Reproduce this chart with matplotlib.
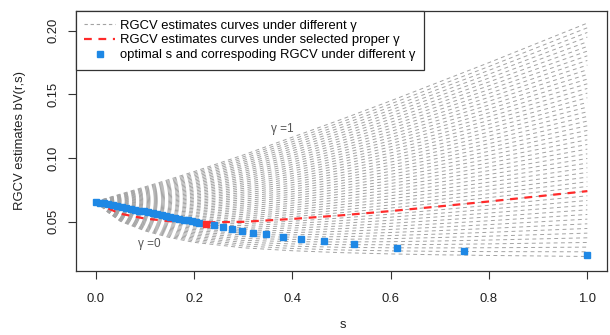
import matplotlib
matplotlib.use('Agg')
import matplotlib.pyplot as plt
import numpy as np
from matplotlib.lines import Line2D
from matplotlib.ticker import FormatStrFormatter

plt.rcParams['font.family'] = ['Liberation Sans', 'DejaVu Sans']

s_grid = np.array([0.0, 0.025, 0.05, 0.1, 0.15, 0.2, 0.3, 0.4, 0.5, 0.6, 0.7, 0.8, 0.9, 1.0])
# lowest curve (gamma = 0) and highest curve (gamma = 1)
rgcv_gamma0 = np.array([0.066, 0.0575, 0.0505, 0.0430, 0.0378, 0.0340, 0.0297,
                        0.0274, 0.0259, 0.0249, 0.0242, 0.0237, 0.0233, 0.0229])
rgcv_gamma1 = np.array([0.066, 0.0689, 0.0718, 0.0775, 0.0834, 0.0895, 0.1025,
                        0.1165, 0.1305, 0.1450, 0.1600, 0.1750, 0.1905, 0.2060])

gammas = [0.00, 0.02, 0.04, 0.06, 0.08, 0.10, 0.12, 0.14, 0.16, 0.18,
          0.20, 0.22, 0.24, 0.26, 0.28, 0.30, 0.32, 0.34, 0.36, 0.38,
          0.40, 0.42, 0.44, 0.46, 0.48, 0.50, 0.52, 0.54, 0.56, 0.58,
          0.60, 0.62, 0.64, 0.66, 0.68, 0.70, 0.72, 0.74, 0.76, 0.78,
          0.80, 0.82, 0.84, 0.86, 0.88, 0.90, 0.92, 0.94, 0.96, 0.98, 1.00]
selected_gamma = 0.28

# optimal s and its RGCV value for each gamma (blue squares)
opt_s = [0.000, 0.008, 0.017, 0.026, 0.035, 0.044, 0.053, 0.062, 0.071, 0.080,
         0.089, 0.098, 0.107, 0.116, 0.125, 0.134, 0.143, 0.152, 0.161, 0.170,
         0.179, 0.188, 0.196, 0.204, 0.211, 0.241, 0.258, 0.277, 0.297, 0.320,
         0.347, 0.380, 0.418, 0.464, 0.526, 0.613, 0.749, 1.000]
opt_v = [0.0658, 0.0652, 0.0645, 0.0638, 0.0631, 0.0624, 0.0617, 0.0610, 0.0603, 0.0596,
         0.0589, 0.0582, 0.0575, 0.0568, 0.0561, 0.0554, 0.0547, 0.0540, 0.0533, 0.0526,
         0.0519, 0.0512, 0.0506, 0.0500, 0.0495, 0.0474, 0.0464, 0.0448, 0.0432, 0.0416,
         0.0403, 0.0385, 0.0366, 0.0348, 0.0324, 0.0298, 0.0274, 0.0240]
sel_opt_s = 0.225
sel_opt_v = 0.0487

legend_labels = ['RGCV estimates curves under different \u03b3',
                 'RGCV estimates curves under selected proper \u03b3',
                 'optimal s and correspoding RGCV under different \u03b3']

GRAY = '#a3a3a3'
RED = '#ff2a2a'
BLUE = '#1e88e5'
INK = '#333333'
FS = 9.4

fig = plt.figure(figsize=(6.1, 3.35), dpi=100)
ax = fig.add_axes([76 / 610, 1 - 271 / 335, 531 / 610, 260 / 335])

# RGCV(s; gamma) weights the two envelope curves by gamma
for g in gammas:
    ax.plot(s_grid, (1 - g) * rgcv_gamma0 + g * rgcv_gamma1, color=GRAY,
            lw=0.7, ls=(0, (4, 3.5)), zorder=1)

sel_curve = (1 - selected_gamma) * rgcv_gamma0 + selected_gamma * rgcv_gamma1
ax.plot(s_grid, sel_curve, color=RED, lw=1.6, ls=(0, (3.5, 3)), zorder=2)
ax.plot(opt_s, opt_v, ls='none', marker='s', markersize=4.2, color=BLUE, zorder=3)
ax.plot([sel_opt_s], [sel_opt_v], ls='none', marker='s', markersize=4.6, color=RED, zorder=4)

ax.text(0.379, 0.1226, '\u03b3 =1', ha='center', va='center', fontsize=8.5, color='#555555')
ax.text(0.110, 0.0326, '\u03b3 =0', ha='center', va='center', fontsize=8.5, color='#555555')

ax.set_xlim(-0.04, 1.04)
ax.set_ylim(0.0115, 0.2155)
ax.set_xticks([0.0, 0.2, 0.4, 0.6, 0.8, 1.0])
ax.set_yticks([0.05, 0.10, 0.15, 0.20])
ax.xaxis.set_major_formatter(FormatStrFormatter('%.1f'))
ax.yaxis.set_major_formatter(FormatStrFormatter('%.2f'))
ax.tick_params(direction='out', length=5.8, width=0.8, color=INK,
               labelsize=FS, labelcolor='#222222')
ax.tick_params(axis='x', pad=10)
ax.tick_params(axis='y', pad=6, labelrotation=90)
for lbl in ax.get_yticklabels():
    lbl.set_va('center')
for sp in ax.spines.values():
    sp.set_color(INK)
    sp.set_linewidth(0.9)

fig.text(20 / 610, 1 - 141 / 335, 'RGCV estimates bV(r,s)', rotation=90,
         ha='center', va='center', fontsize=FS, color='#222222')
fig.text(343 / 610, 1 - 328.5 / 335, 's', ha='center', va='baseline',
         fontsize=FS, color='#222222')

handles = [Line2D([], [], color=GRAY, lw=0.8, ls=(0, (3, 2.5))),
           Line2D([], [], color=RED, lw=1.6, ls=(0, (3.5, 3))),
           Line2D([], [], color=BLUE, marker='s', ls='none', markersize=4.2)]
leg = ax.legend(handles, legend_labels, loc='upper left', bbox_to_anchor=(0, 1),
                borderaxespad=0, frameon=True, fancybox=False, edgecolor=INK,
                framealpha=1, fontsize=FS, handlelength=2.3, handletextpad=0.4,
                labelspacing=0.2, borderpad=0.65)
leg.get_frame().set_linewidth(0.9)

fig.savefig('out.png', dpi=100)
